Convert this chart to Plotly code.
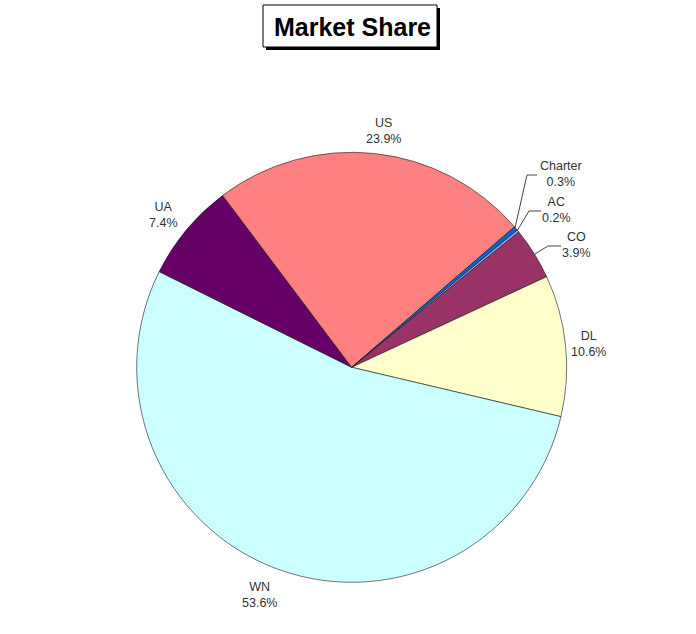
"""
market_share.py — 市佔率圓餅圖
"""
import plotly.graph_objects as go

W, H = 696, 634

# 資料（順序同 Excel，順時針）
carriers = ['AC', 'CO', 'DL', 'WN', 'UA', 'US', 'Charter']
shares = [0.2, 3.9, 10.6, 53.6, 7.4, 23.9, 0.3]
colors = ['#9999FF', '#993366', '#FFFFCC', '#CCFFFF', '#660066', '#FF8080', '#0066CC']

# 標籤位置（像素，畫面座標）
label_pos = {
    'AC': (556, 210),
    'CO': (576, 245),
    'DL': (588, 344),
    'WN': (259, 595),
    'UA': (163, 215),
    'US': (383, 131),
    'Charter': (561, 174),
}
# 引導線（像素）
leaders = {
    'Charter': [(515, 228), (527, 175), (537, 175)],
    'AC': [(517, 231), (529, 211), (541, 211)],
    'CO': [(535, 254), (548, 246), (561, 246)],
}

CX, CY, R = 351.7, 367.3, 215
LABEL_FONT = dict(family='Liberation Sans, Arial', size=12.5, color='#333333')


def px(x, y):
    return x / W, 1 - y / H


fig = go.Figure(go.Pie(
    labels=carriers, values=shares,
    sort=False, direction='clockwise', rotation=50.3,
    marker=dict(colors=colors, line=dict(color='#1a1a1a', width=0.6)),
    textinfo='none', hoverinfo='label+value',
    domain=dict(x=[(CX - R) / W, (CX + R) / W],
                y=[(H - CY - R) / H, (H - CY + R) / H]),
    showlegend=False,
))

for name, val in zip(carriers, shares):
    x, y = px(*label_pos[name])
    fig.add_annotation(x=x, y=y, xref='paper', yref='paper',
                       xanchor='center', yanchor='middle',
                       text=f'{name}<br>{val:.1f}%', showarrow=False,
                       font=LABEL_FONT, align='center')

for name, pts in leaders.items():
    path = 'M ' + ' L '.join(f'{px(x, y)[0]:.5f},{px(x, y)[1]:.5f}' for x, y in pts)
    fig.add_shape(type='path', path=path, xref='paper', yref='paper',
                  line=dict(color='#444444', width=1))

# 標題框（含陰影）
x0, y0 = px(266, 8)
x1, y1 = px(440, 50)
fig.add_shape(type='rect', x0=x0, y0=y0, x1=x1, y1=y1, xref='paper', yref='paper',
              fillcolor='#000000', line=dict(width=0))
x0, y0 = px(263, 5)
x1, y1 = px(437, 47)
fig.add_shape(type='rect', x0=x0, y0=y0, x1=x1, y1=y1, xref='paper', yref='paper',
              fillcolor='#FFFFFF', line=dict(color='#000000', width=1))
tx, ty = px(352, 27)
fig.add_annotation(x=tx, y=ty, xref='paper', yref='paper', text='<b>Market Share</b>',
                   xanchor='center', yanchor='middle', showarrow=False,
                   font=dict(family='Liberation Sans, Arial', size=25, color='#000000'))

fig.update_layout(
    width=W, height=H,
    margin=dict(l=0, r=0, t=0, b=0),
    paper_bgcolor='#FFFFFF', plot_bgcolor='#FFFFFF',
)

fig.write_html('out.html', config={'displayModeBar': False},
               post_script="document.body.style.margin = '0';")
